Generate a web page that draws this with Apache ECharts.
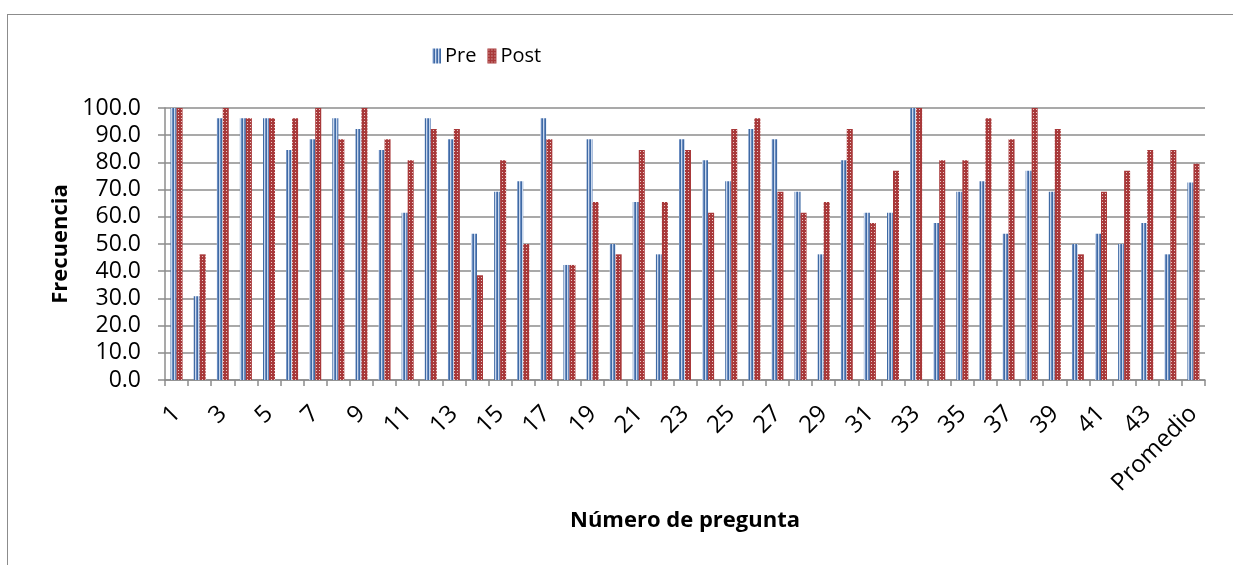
<!DOCTYPE html>
<html>
<head>
<meta charset="utf-8">
<script src="https://cdn.jsdelivr.net/npm/echarts@6/dist/echarts.min.js"></script>
<style>
html,body{margin:0;padding:0;background:#fff;}
#frame{position:absolute;left:7px;top:14px;width:1240px;height:560px;border-left:1.5px solid #8c8c8c;border-top:1.5px solid #8c8c8c;}
#chart{position:absolute;left:0;top:0;width:1233px;height:565px;}
</style>
</head>
<body>
<div id="frame"></div>
<div id="chart"></div>
<script>
const categories = ['1','2','3','4','5','6','7','8','9','10','11','12','13','14','15','16','17','18','19','20','21','22','23','24','25','26','27','28','29','30','31','32','33','34','35','36','37','38','39','40','41','42','43','44','Promedio'];
const preValues = [100,30.8,96.2,96.2,96.2,84.6,88.5,96.2,92.3,84.6,61.5,96.2,88.5,53.8,69.2,73.1,96.2,42.3,88.5,50.0,65.4,46.2,88.5,80.8,73.1,92.3,88.5,69.2,46.2,80.8,61.5,61.5,100,57.7,69.2,73.1,53.8,76.9,69.2,50.0,53.8,50.0,57.7,46.2,72.6];
const postValues = [100,46.2,100,96.2,96.2,96.2,100,88.5,100,88.5,80.8,92.3,92.3,38.5,80.8,50.0,88.5,42.3,65.4,46.2,84.6,65.4,84.6,61.5,92.3,96.2,69.2,61.5,65.4,92.3,57.7,76.9,100,80.8,80.8,96.2,88.5,100,92.3,46.2,69.2,76.9,84.6,84.6,79.5];
const yTicks = [0,10,20,30,40,50,60,70,80,90,100];

function prePattern(){
  const c=document.createElement('canvas'); c.width=3; c.height=4;
  const g=c.getContext('2d');
  g.fillStyle='#c9d7ec'; g.fillRect(0,0,1,4);
  g.fillStyle='#6a8cc0'; g.fillRect(1,0,1,4);
  g.fillStyle='#3f6aa4'; g.fillRect(2,0,1,4);
  return c;
}
function postPattern(){
  const c=document.createElement('canvas'); c.width=3; c.height=3;
  const g=c.getContext('2d');
  g.fillStyle='#a8393a'; g.fillRect(0,0,3,3);
  g.fillStyle='#eac8c6'; g.fillRect(1,1,1,1);
  return c;
}
const preColor={image:prePattern(),repeat:'repeat'};
const postColor={image:postPattern(),repeat:'repeat'};

const chart=echarts.init(document.getElementById('chart'),null,{renderer:'canvas'});
const font='Open Sans';
chart.setOption({
  animation:false,
  textStyle:{fontFamily:font},
  legend:{
    left:427, top:41, itemWidth:9, itemHeight:15, itemGap:11,
    icon:'rect',
    textStyle:{fontSize:20,color:'#000',fontFamily:font,padding:[0,0,0,-1]},
    data:['Pre','Post']
  },
  grid:{left:165,right:28,top:108,bottom:185,containLabel:false},
  xAxis:{
    type:'category', data:categories,
    name:'Número de pregunta', nameLocation:'middle', nameGap:130,
    nameTextStyle:{fontSize:22,fontWeight:'bold',color:'#000',fontFamily:font},
    axisLine:{lineStyle:{color:'#8c8c8c',width:1.5}},
    axisTick:{show:true,alignWithLabel:false,interval:0,length:6,lineStyle:{color:'#8c8c8c',width:1.5}},
    axisLabel:{interval:1,rotate:45,fontSize:24,color:'#000',margin:30,fontFamily:font}
  },
  yAxis:{
    type:'value', min:0, max:100, interval:10,
    name:'Frecuencia', nameLocation:'middle', nameGap:92, nameRotate:90,
    nameTextStyle:{fontSize:22,fontWeight:'bold',color:'#000',fontFamily:font},
    axisLine:{show:true,lineStyle:{color:'#8c8c8c',width:1.5}},
    axisTick:{show:true,length:7,lineStyle:{color:'#8c8c8c',width:1.5}},
    axisLabel:{fontSize:23,color:'#000',margin:14,padding:[0,10,0,0],fontFamily:font,formatter:v=>yTicks.includes(v)?v.toFixed(1):''},
    splitLine:{show:true,lineStyle:{color:'#8c8c8c',width:1.5}}
  },
  series:[
    {name:'Pre',type:'bar',data:preValues,barWidth:6,barGap:'0%',itemStyle:{color:preColor}},
    {name:'Post',type:'bar',data:postValues,barWidth:6,barGap:'0%',itemStyle:{color:postColor}}
  ]
});
</script>
</body>
</html>
